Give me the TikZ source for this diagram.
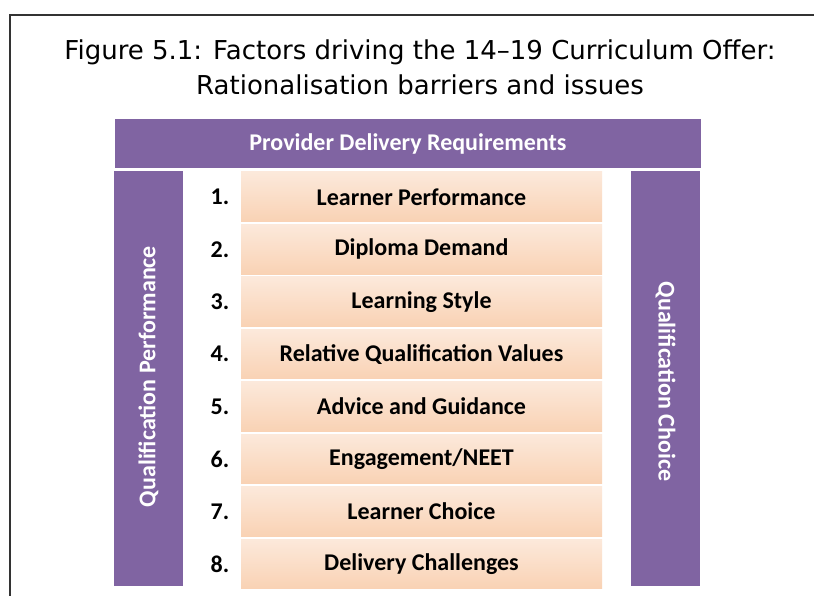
\documentclass[tikz,border=0pt]{standalone}
\usepackage{fontspec}
\setmainfont{DejaVu Sans}
\newfontfamily\carlito{Carlito}
\definecolor{purp}{HTML}{8064A2}
\definecolor{ortop}{HTML}{FCE9DB}
\definecolor{orbot}{HTML}{F9D2B4}
\definecolor{framec}{HTML}{333333}
\tikzset{
  purpbar/.style={fill=purp, draw=none, inner sep=0pt, text=white, font=\carlito\bfseries\fontsize{24}{28}\selectfont},
  factor/.style={draw=none, inner sep=0pt, top color=ortop, bottom color=orbot, minimum width=361pt, minimum height=49.7pt, font=\carlito\bfseries\fontsize{24}{28}\selectfont, text=black},
  num/.style={inner sep=0pt, font=\carlito\bfseries\fontsize{24}{28}\selectfont, text=black},
  titletext/.style={align=center, inner sep=0pt, font=\fontsize{26}{35}\selectfont, text=black}
}
\begin{document}
\begin{tikzpicture}[x=1pt,y=-1pt]
\useasboundingbox (0,0) rectangle (814,596);
\fill[white] (0,0) rectangle (814,596);
\coordinate (fbl) at (10,597);
\coordinate (ftl) at (10,15);
\coordinate (ftr) at (815,15);
\draw[line width=1.8pt, framec] (fbl) -- (ftl) -- (ftr);
\node[titletext] (title) at (420,67) {Figure 5.1: Factors driving the 14--19 Curriculum Offer:\\Rationalisation barriers and issues};
\node[purpbar, minimum width=586pt, minimum height=49pt] (top) at (408,143.5) {Provider Delivery Requirements};
\node[purpbar, minimum width=69pt, minimum height=415pt] (left) at (148.5,378.5) {};
\node[purpbar, rotate=90] (lefttext) at (148.5,376.5) {Qualification Performance};
\node[purpbar, minimum width=69pt, minimum height=415pt] (right) at (665.5,378.5) {};
\node[purpbar, rotate=-90] (righttext) at (665.5,381.5) {Qualification Choice};
\foreach \i/\t in {1/{Learner Performance},2/{Diploma Demand},3/{Learning Style},4/{Relative Qualification Values},5/{Advice and Guidance},6/{Engagement/NEET},7/{Learner Choice},8/{Delivery Challenges}}{
  \node[factor] (f\i) at (421.5,{196.85+52.43*(\i-1)}) {\t};
  \node[num] (n\i) at (220,{196.85+52.43*(\i-1)}) {\i.};
}
\end{tikzpicture}
\end{document}
